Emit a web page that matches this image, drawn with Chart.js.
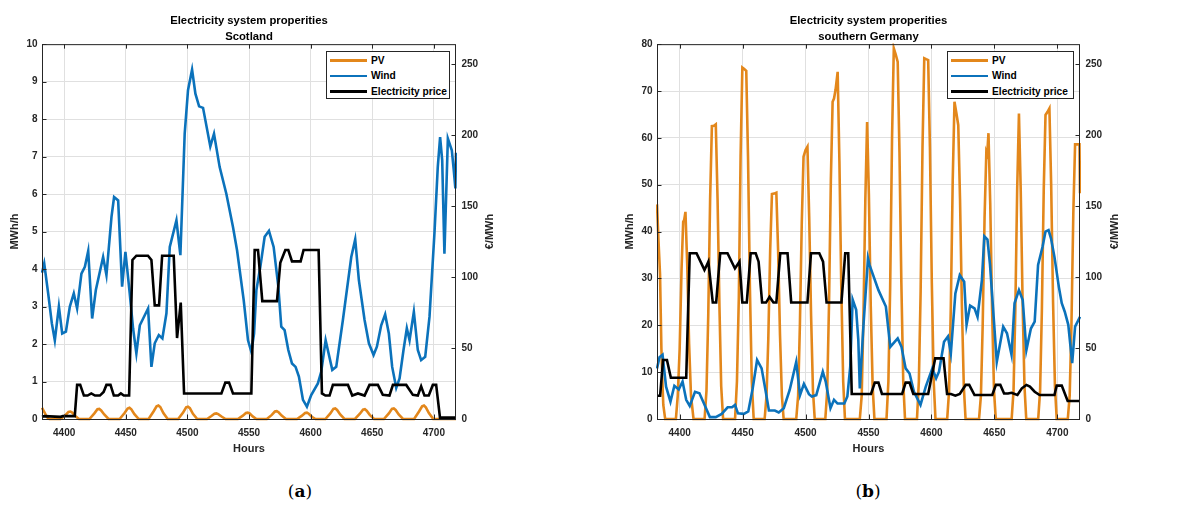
<!DOCTYPE html>
<html>
<head>
<meta charset="utf-8">
<title>Electricity system properities</title>
<script src="https://cdn.jsdelivr.net/npm/chart.js@4.4.1/dist/chart.umd.min.js"></script>
<style>
  html, body { margin: 0; padding: 0; background: #fff; }
  body { width: 1189px; height: 505px; position: relative; overflow: hidden;
         font-family: 'Liberation Sans', Arial, sans-serif; }
  .panel { position: absolute; top: 0; height: 470px; }
  .legend { position: absolute; background: #fff; border: 1px solid #262626;
            box-sizing: border-box; padding-top: 1px; }
  .legend .row { height: 15.3px; display: flex; align-items: center; white-space: nowrap;
                 font: bold 10.2px 'Liberation Sans', Arial, sans-serif; color: #000; }
  .legend .sw { display: inline-block; width: 37px; height: 2.6px; margin: 0 4px 0 3px; }
  .cap { position: absolute; top: 481px; transform: translateX(-50%);
         font: 17px 'DejaVu Serif', serif; color: #000; }
</style>
</head>
<body>
<div class="panel" style="left:0;width:600px"><canvas id="chartScot" width="600" height="470"></canvas></div>
<div class="panel" style="left:600px;width:589px"><canvas id="chartGer" width="589" height="470"></canvas></div>
<div class="legend" id="legScot" style="left:326px;top:51px;width:124px;height:48px"></div>
<div class="legend" id="legGer" style="left:947px;top:51px;width:127px;height:48px"></div>
<div class="cap" style="left:300px">(<b>a</b>)</div>
<div class="cap" style="left:868px">(<b>b</b>)</div>

<script>
// ---- axis ticks ----
const hourTicks = [4400, 4450, 4500, 4550, 4600, 4650, 4700];
const scotEnergyTicks = [0, 1, 2, 3, 4, 5, 6, 7, 8, 9, 10];
const gerEnergyTicks = [0, 10, 20, 30, 40, 50, 60, 70, 80];
const priceTicks = [0, 50, 100, 150, 200, 250];

const seriesLabels = ['PV', 'Wind', 'Electricity price'];

// ---- Scotland (MWh/h and €/MWh against hour of year) ----
const scotPvHours = [4382, 4384, 4386, 4388,
  4397, 4401, 4403.5, 4405, 4406.5, 4409, 4412,
  4420.5, 4424.5, 4427, 4428.5, 4430, 4432.5, 4436,
  4445, 4449, 4451.5, 4453, 4454.5, 4457, 4460.5,
  4468.5, 4472.5, 4475, 4476.5, 4478, 4480.5, 4484,
  4492.5, 4496.5, 4499, 4500.5, 4502, 4504.5, 4508,
  4516, 4519.5, 4522, 4523.5, 4525, 4528, 4531,
  4541, 4545, 4547.5, 4549, 4550.5, 4553, 4556,
  4564.5, 4568.5, 4571, 4572.5, 4574, 4576.5, 4580,
  4589, 4593, 4595.5, 4597, 4598.5, 4601, 4604,
  4612, 4616, 4618.5, 4620, 4621.5, 4624, 4627.5,
  4636, 4640, 4642.5, 4644, 4645.5, 4648, 4651.5,
  4659.5, 4663.5, 4666, 4667.5, 4669, 4671.5, 4675,
  4684, 4688, 4690.5, 4692, 4693.5, 4696, 4699.5,
  4718];
const scotPv = [0.30, 0.18, 0.05, 0,
  0, 0.10, 0.19, 0.20, 0.17, 0.08, 0,
  0, 0.15, 0.26, 0.27, 0.23, 0.12, 0,
  0, 0.16, 0.28, 0.30, 0.26, 0.13, 0,
  0, 0.20, 0.34, 0.36, 0.32, 0.16, 0,
  0, 0.17, 0.31, 0.33, 0.29, 0.14, 0,
  0, 0.08, 0.14, 0.15, 0.13, 0.06, 0,
  0, 0.09, 0.16, 0.17, 0.15, 0.07, 0,
  0, 0.11, 0.20, 0.21, 0.18, 0.09, 0,
  0, 0.09, 0.16, 0.17, 0.14, 0.06, 0,
  0, 0.15, 0.27, 0.28, 0.24, 0.12, 0,
  0, 0.14, 0.25, 0.26, 0.22, 0.11, 0,
  0, 0.15, 0.27, 0.28, 0.24, 0.12, 0,
  0, 0.20, 0.34, 0.36, 0.31, 0.16, 0,
  0];

const scotWindHours = [4382, 4383.8, 4387, 4390, 4392.4, 4395.7, 4398.4, 4401.4, 4404.6, 4407.8,
  4410.5, 4414, 4416.8, 4419.5, 4422.7, 4425.7, 4431.6, 4434.3, 4438.4, 4440.5,
  4443.8, 4447, 4449.7, 4453.2, 4455.9, 4458.6, 4461.4, 4468.1, 4470.8, 4473.5,
  4476.8, 4479.7, 4483, 4485.7, 4491.1, 4494.3, 4497.8, 4500.5, 4503.8, 4506.5,
  4509.5, 4512.7, 4518.6, 4521.6, 4526.2, 4531.6, 4537, 4540.3, 4545.7, 4549.2,
  4551.9, 4554.1, 4556, 4559.2, 4562.7, 4566.2, 4570, 4573.8, 4576.2, 4578.9,
  4581.9, 4584.9, 4587.8, 4590.5, 4593.8, 4597, 4600.5, 4605.9, 4608.6, 4612.2,
  4617.6, 4620.8, 4626.2, 4633, 4636.2, 4639.2, 4643.8, 4647.3, 4651.1, 4653.8,
  4657.3, 4660.5, 4663.5, 4666.2, 4669.5, 4672.2, 4675.4, 4678.1, 4680.3, 4683.8,
  4687, 4689.7, 4693, 4696.5, 4700.5, 4703.2, 4705.1, 4706.8, 4708.6, 4711.4,
  4714.6, 4716.2, 4717.5, 4718];
const scotWind = [3.9, 4.15, 3.35, 2.55, 2.1, 3.0, 2.28, 2.33, 3.0, 3.35,
  2.95, 3.88, 4.06, 4.48, 2.68, 3.44, 4.32, 3.84, 5.39, 5.92,
  5.83, 3.53, 4.46, 3.35, 2.42, 1.75, 2.5, 2.95, 1.39, 2.02,
  2.24, 2.15, 2.82, 4.59, 5.3, 4.37, 7.61, 8.77, 9.32, 8.68,
  8.34, 8.3, 7.27, 7.61, 6.72, 6.01, 5.12, 4.5, 3.17, 2.1,
  1.79, 2.28, 3.44, 4.06, 4.86, 5.02, 4.59, 3.53, 2.46, 2.37,
  1.84, 1.48, 1.39, 1.13, 0.51, 0.33, 0.64, 0.95, 1.26, 2.1,
  1.31, 1.39, 2.64, 4.32, 4.79, 3.7, 2.64, 2.02, 1.71, 1.93,
  2.5, 2.79, 2.28, 1.39, 0.83, 1.08, 1.84, 2.42, 2.1, 2.86,
  1.84, 1.57, 1.66, 2.73, 4.95, 6.72, 7.52, 6.9, 4.41, 7.48,
  7.17, 6.63, 6.15, 7.1];

const scotPriceHours = [4382, 4384, 4397, 4399, 4408.6, 4410.5, 4413, 4416, 4419, 4422,
  4425, 4429, 4432, 4434.3, 4437.6, 4440.3, 4443.8, 4446, 4448.4, 4452.7,
  4455.4, 4458.6, 4468, 4470.8, 4473.5, 4477, 4479.5, 4488.9, 4491.6, 4494.6,
  4497.3, 4527.6, 4530.8, 4533.8, 4537, 4551.9, 4554.6, 4557.3, 4560.8, 4572.7,
  4575.4, 4579.5, 4581.9, 4584.9, 4591.9, 4594.3, 4606.5, 4609.2, 4612, 4615.4,
  4618.1, 4630.3, 4633.8, 4638.4, 4643.8, 4647.8, 4654.6, 4658.6, 4664, 4666.8,
  4677.6, 4683, 4687, 4689.7, 4692.4, 4695.9, 4699.2, 4701.9, 4705, 4718];
const scotPrice = [1.5, 2, 1.5, 2, 2, 24, 24, 16.5, 16.5, 18,
  16.5, 16.5, 19, 24, 24, 16.5, 16.5, 18, 16.5, 16.5,
  112, 115, 115, 112, 80, 80, 115, 115, 57, 82,
  18, 18, 25.6, 25.6, 18, 18, 119, 119, 83, 83,
  110, 119, 119, 111, 111, 119, 119, 18, 16.5, 16.5,
  24, 24, 16.5, 18, 16.5, 24, 24, 17, 16.5, 24,
  24, 17, 16.5, 23, 16.5, 16.5, 24, 24, 1, 1];

// ---- southern Germany ----
const gerPvHours = [4382, 4383.2, 4384.4, 4385.5, 4386.3, 4387, 4388.5,
  4397, 4398.5, 4400, 4401.5, 4402.8, 4403.6, 4404.6, 4406, 4407.5, 4409, 4411,
  4419.8, 4421.3, 4422.7, 4424.2, 4425.6, 4427.2, 4428.7, 4430.1, 4431.6, 4433, 4434.5,
  4444, 4445.5, 4447, 4448.4, 4449.8, 4451.3, 4452.9, 4454.3, 4455.8, 4457.3, 4458.8,
  4467.5, 4469, 4470.4, 4471.9, 4473.3, 4475, 4476.8, 4478.2, 4479.7, 4481.2, 4482.6,
  4492.6, 4494.1, 4495.5, 4497, 4498.4, 4500, 4501.5, 4502.9, 4504.4, 4505.9, 4507.3,
  4515.7, 4517.2, 4518.6, 4520.1, 4521.5, 4522.6, 4523.8, 4525.5, 4526.9, 4528.4, 4529.9, 4531.3,
  4543.1, 4544.6, 4546, 4547.5, 4548.9, 4550.3, 4551.8, 4553.3, 4554.7,
  4564.3, 4565.8, 4567.2, 4568.7, 4570.1, 4571.6, 4573.2, 4574.6, 4576.1, 4577.6, 4579,
  4588.5, 4590, 4591.4, 4592.9, 4594.3, 4595.8, 4597.4, 4598.8, 4600.3, 4601.8, 4603.2,
  4612.5, 4614, 4615.4, 4616.9, 4618.3, 4619.8, 4621.3, 4622.7, 4624.2, 4625.7, 4627.1,
  4637.8, 4639.3, 4640.7, 4642.2, 4643.6, 4644.3, 4645.3, 4646.7, 4648.2, 4649.7, 4651.1,
  4663.7, 4665.2, 4666.6, 4668.1, 4669.5, 4670.9, 4672.4, 4673.9, 4675.3,
  4684.8, 4686.3, 4687.7, 4689.2, 4690.6, 4692.1, 4693.7, 4695.1, 4696.6, 4698.1, 4699.5,
  4708.3, 4709.8, 4711.2, 4712.7, 4714.1, 4716, 4717.6, 4718];
const gerPv = [45.8, 38, 31, 15, 8, 3, 0,
  0, 5, 15, 32, 42.1, 42.5, 44.2, 33, 16, 5, 0,
  0, 6, 22, 47, 62.5, 62.6, 62.9, 47, 24, 7, 0,
  0, 8, 26, 56, 75, 74.7, 74.3, 56, 28, 8, 0,
  0, 5, 17, 36, 48, 48.1, 48.3, 36, 18, 5, 0,
  0, 5, 20, 42, 56, 57.4, 58.1, 43, 22, 6, 0,
  0, 6, 24, 51, 67.7, 68.4, 70.2, 74.1, 55, 28, 8, 0,
  0, 5, 22, 47, 63.4, 48, 24, 7, 0,
  0, 8, 28, 60, 79.1, 77.8, 76.2, 57, 29, 8, 0,
  0, 8, 27, 58, 77, 76.8, 76.6, 58, 29, 8, 0,
  0, 6, 24, 51, 67.7, 65.3, 62.7, 47, 24, 7, 0,
  0, 5, 20, 43, 57, 56.5, 61, 46, 23, 6, 0,
  0, 6, 23, 49, 65.2, 49, 25, 7, 0,
  0, 6, 23, 49, 64.9, 65.5, 66.3, 50, 25, 7, 0,
  0, 5, 20, 44, 58.6, 58.6, 58.6, 48.2];

const gerWindHours = [4382, 4384, 4386.4, 4389.2, 4392.7, 4395.8, 4399.3, 4402.3, 4405.2, 4408,
  4412.2, 4415.7, 4419.3, 4424, 4428.7, 4433.4, 4438.1, 4441.6, 4444, 4446.3,
  4451, 4454.5, 4458, 4461.5, 4465.1, 4468.6, 4470.9, 4475.6, 4478.7, 4482.7,
  4487.4, 4492.6, 4495.6, 4498.7, 4502.7, 4505, 4508.5, 4513.7, 4516, 4519.8,
  4522.6, 4525.4, 4530.8, 4533.2, 4535.5, 4537.4, 4540.2, 4541.9, 4543.1, 4546,
  4549.6, 4550.8, 4557.9, 4563.8, 4567.3, 4573.2, 4576.2, 4579.5, 4582.6, 4586.1,
  4591.3, 4595.5, 4600.7, 4603.7, 4606, 4610, 4613.1, 4615.4, 4619, 4622.5,
  4626, 4627.9, 4630.7, 4634.2, 4636.6, 4640.1, 4642, 4644.5, 4646.5, 4651.9,
  4657, 4660, 4663.6, 4666, 4669.5, 4672.5, 4675.4, 4679, 4682, 4684.7,
  4688.3, 4690.6, 4693, 4695, 4697.7, 4701.2, 4703.5, 4705.9, 4708.7, 4711.8,
  4714.1, 4718];
const gerWind = [10.8, 13.2, 13.7, 6.9, 3.7, 7.1, 6.3, 8.0, 4.1, 2.8,
  5.8, 5.5, 3.3, 0.4, 0.4, 1.1, 2.5, 2.5, 3.0, 1.2,
  1.1, 1.6, 6.5, 12.6, 10.8, 5.5, 1.8, 1.8, 1.4, 2.3,
  6.2, 12.2, 5.1, 7.5, 5.3, 4.8, 5.1, 10.1, 8.0, 2.3,
  4.1, 3.3, 3.3, 4.8, 11.2, 25.5, 23.3, 16.9, 6.5, 20,
  34.3, 32.9, 27.5, 24, 15.4, 17.2, 15.4, 10.8, 9.7, 5.8,
  3.0, 6.9, 10.8, 8.7, 10.1, 16.5, 17.6, 14, 26.8, 30.7,
  29.3, 20.1, 24.2, 23.6, 21.8, 29.7, 39, 38.3, 33, 12.2,
  19.7, 18.3, 13.7, 24.7, 27.5, 25.4, 14.7, 19.3, 20.8, 32.9,
  36.8, 40, 40.3, 38.5, 34.6, 28.2, 24.7, 22.9, 20.1, 11.9,
  19.7, 21.8];

const gerPriceHours = [4382, 4384.5, 4386.8, 4389.9, 4393, 4405.2, 4408, 4413.4, 4419.7, 4421.6,
  4422.8, 4426.3, 4429, 4432.2, 4438, 4443.9, 4447.5, 4449.8, 4453.3, 4456.4,
  4460.4, 4462.7, 4465.5, 4468.6, 4471.4, 4474.5, 4476.8, 4479.9, 4485.7, 4488.6,
  4501.5, 4504.3, 4510.9, 4513.9, 4516.7, 4528.5, 4531.5, 4533.9, 4536.7, 4552,
  4555, 4557.9, 4560.7, 4576.7, 4579.5, 4582.6, 4585.6, 4597.4, 4603, 4609.6,
  4612.4, 4615.5, 4619, 4622.5, 4627.2, 4630, 4634.2, 4648.3, 4651.2, 4654.7,
  4657.7, 4660.8, 4663.6, 4668.3, 4671.8, 4675.4, 4678.2, 4682, 4685.9, 4697.7,
  4699.5, 4703.5, 4708.2, 4718];
const gerPrice = [16.4, 16.4, 41.5, 41.5, 29.1, 29.1, 116.7, 116.7, 105, 108.5,
  110.8, 82, 82, 116.7, 116.7, 106, 110.8, 82, 82, 116.7,
  116.7, 110.8, 82, 82, 86, 82, 82, 116.7, 116.7, 82,
  82, 116.7, 116.7, 110.8, 82, 82, 116.7, 116.7, 17.6, 17.6,
  25.6, 25.6, 17.6, 17.6, 25.6, 25.6, 17.6, 17.6, 42.7, 42.7,
  17.6, 17.6, 16.4, 17.6, 24, 24, 16.9, 16.9, 24, 24,
  18, 18, 18.5, 16.9, 21.6, 24, 22.8, 19.2, 16.9, 16.9,
  23.5, 23.5, 12.7, 12.7];

// ---- styling ----
const FONT = "'Liberation Sans', Arial, sans-serif";
const AXIS_COLOR = '#262626';
const GRID_COLOR = '#e0e0e0';
const COLORS = ['#e3871b', '#0b72bb', '#000000'];
const tickFont = { family: FONT, size: 10, weight: 'bold' };
const labelFont = { family: FONT, size: 11, weight: 'bold' };

const toPoints = (hours, values) => hours.map((h, i) => ({ x: h, y: values[i] }));

// axes box, inward tick marks and the rotated right-hand axis title
const axesBox = {
  id: 'axesBox',
  afterDatasetsDraw(chart, args, opts) {
    const { ctx, chartArea: a, scales } = chart;
    const L = 4.5;
    ctx.save();
    ctx.strokeStyle = AXIS_COLOR;
    ctx.lineWidth = 1;
    ctx.beginPath();
    scales.x.ticks.forEach(t => {
      const px = Math.round(scales.x.getPixelForValue(t.value)) + 0.5;
      ctx.moveTo(px, a.bottom); ctx.lineTo(px, a.bottom - L);
      ctx.moveTo(px, a.top); ctx.lineTo(px, a.top + L);
    });
    scales.y.ticks.forEach(t => {
      const py = Math.round(scales.y.getPixelForValue(t.value)) + 0.5;
      ctx.moveTo(a.left, py); ctx.lineTo(a.left + L, py);
    });
    scales.y1.ticks.forEach(t => {
      const py = Math.round(scales.y1.getPixelForValue(t.value)) + 0.5;
      ctx.moveTo(a.right, py); ctx.lineTo(a.right - L, py);
    });
    ctx.stroke();
    ctx.strokeRect(a.left + 0.5, a.top + 0.5, a.right - a.left - 1, a.bottom - a.top);
    ctx.fillStyle = AXIS_COLOR;
    ctx.font = 'bold 11px ' + FONT;
    ctx.textAlign = 'center';
    ctx.textBaseline = 'middle';
    ctx.translate(a.right + opts.offset, (a.top + a.bottom) / 2);
    ctx.rotate(-Math.PI / 2);
    ctx.fillText(opts.text, 0, 0);
    ctx.restore();
  }
};

function makeChart(canvasId, cfg) {
  const datasets = [
    { label: seriesLabels[0], data: toPoints(cfg.pvHours, cfg.pv), yAxisID: 'y', order: 3 },
    { label: seriesLabels[1], data: toPoints(cfg.windHours, cfg.wind), yAxisID: 'y', order: 2 },
    { label: seriesLabels[2], data: toPoints(cfg.priceHours, cfg.price), yAxisID: 'y1', order: 1 }
  ].map((d, i) => Object.assign(d, {
    borderColor: COLORS[i], backgroundColor: COLORS[i], borderWidth: 2.6,
    pointRadius: 0, tension: 0, fill: false, clip: { left: 1, right: 1, top: 1, bottom: 2 }
  }));

  return new Chart(document.getElementById(canvasId), {
    type: 'line',
    data: { datasets },
    plugins: [axesBox],
    options: {
      responsive: false,
      devicePixelRatio: 1,
      animation: false,
      events: [],
      layout: { padding: 0 },
      plugins: {
        legend: { display: false },
        tooltip: { enabled: false },
        title: {
          display: true, fullSize: false, color: '#000',
          text: ['Electricity system properities', cfg.region],
          font: { family: FONT, size: 11.3, weight: 'bold', lineHeight: 1.354 },
          padding: { top: 13.5, bottom: 0.05 }
        },
        axesBox: { text: '€/MWh', offset: cfg.rightTitleOffset }
      },
      scales: {
        x: {
          type: 'linear', min: cfg.xMin, max: cfg.xMax,
          afterBuildTicks: s => { s.ticks = hourTicks.map(v => ({ value: v })); },
          afterFit: s => { s.height = 51; },
          grid: { color: GRID_COLOR, drawTicks: false },
          border: { display: false },
          ticks: { font: tickFont, color: AXIS_COLOR, padding: 8, maxRotation: 0, autoSkip: false,
                   callback: v => String(v) },
          title: { display: true, text: 'Hours', font: labelFont, color: AXIS_COLOR,
                   padding: { top: 0, bottom: 14 } }
        },
        y: {
          position: 'left', min: 0, max: cfg.energyTicks[cfg.energyTicks.length - 1],
          afterBuildTicks: s => { s.ticks = cfg.energyTicks.map(v => ({ value: v })); },
          afterFit: s => { s.width = cfg.leftWidth; },
          grid: { color: GRID_COLOR, drawTicks: false },
          border: { display: false },
          ticks: { font: tickFont, color: AXIS_COLOR, padding: 4.5, callback: v => String(v) },
          title: { display: true, text: 'MWh/h', font: labelFont, color: AXIS_COLOR,
                   padding: { top: cfg.leftTitlePad, bottom: 0 } }
        },
        y1: {
          position: 'right', min: 0, max: 264,
          afterBuildTicks: s => { s.ticks = priceTicks.map(v => ({ value: v })); },
          afterFit: s => { s.width = cfg.rightWidth; },
          grid: { drawOnChartArea: false, drawTicks: false },
          border: { display: false },
          ticks: { font: tickFont, color: AXIS_COLOR, padding: 5.5, callback: v => String(v) },
          title: { display: false }
        }
      }
    }
  });
}

function buildLegend(elId, chart) {
  const el = document.getElementById(elId);
  chart.data.datasets.forEach(ds => {
    const row = document.createElement('div');
    row.className = 'row';
    const sw = document.createElement('span');
    sw.className = 'sw';
    sw.style.background = ds.borderColor;
    row.appendChild(sw);
    row.appendChild(document.createTextNode(ds.label));
    el.appendChild(row);
  });
}

const scotChart = makeChart('chartScot', {
  region: 'Scotland', xMin: 4382, xMax: 4718,
  pvHours: scotPvHours, pv: scotPv, windHours: scotWindHours, wind: scotWind,
  priceHours: scotPriceHours, price: scotPrice,
  energyTicks: scotEnergyTicks, leftWidth: 42, rightWidth: 144, leftTitlePad: 8.4, rightTitleOffset: 34
});
const gerChart = makeChart('chartGer', {
  region: 'southern Germany', xMin: 4382, xMax: 4718,
  pvHours: gerPvHours, pv: gerPv, windHours: gerWindHours, wind: gerWind,
  priceHours: gerPriceHours, price: gerPrice,
  energyTicks: gerEnergyTicks, leftWidth: 57, rightWidth: 109, leftTitlePad: 23.4, rightTitleOffset: 35
});
buildLegend('legScot', scotChart);
buildLegend('legGer', gerChart);
</script>
</body>
</html>
